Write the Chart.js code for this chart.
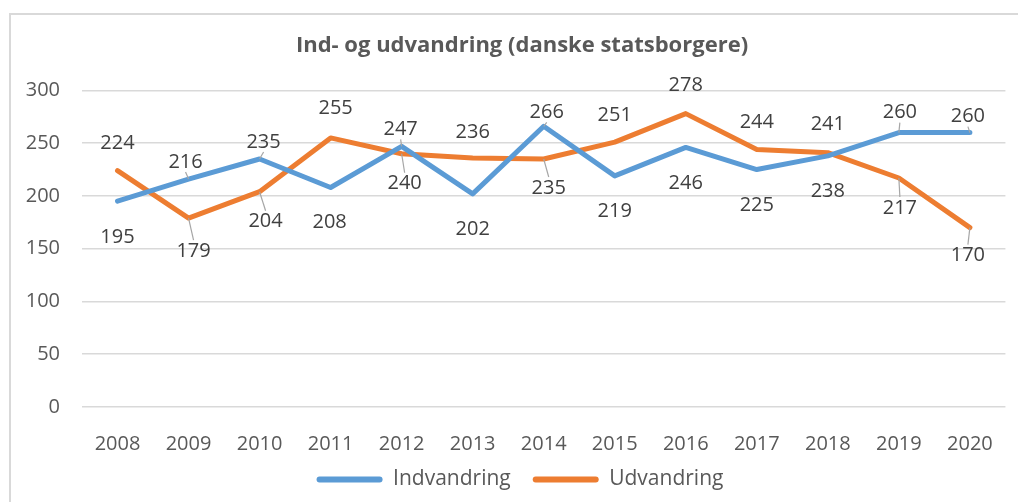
<!DOCTYPE html>
<html>
<head>
<meta charset="utf-8">
<script src="https://cdn.jsdelivr.net/npm/chart.js@4"></script>
<style>
  html, body { margin: 0; padding: 0; background: #ffffff; }
  #wrap { width: 1018px; height: 502px; position: relative; }
</style>
</head>
<body>
<div id="wrap"><canvas id="c" width="1018" height="502"></canvas></div>
<script>
// ---- data ----
const years = ['2008','2009','2010','2011','2012','2013','2014','2015','2016','2017','2018','2019','2020'];
const indvandring = [195, 216, 235, 208, 247, 202, 266, 219, 246, 225, 238, 260, 260];
const udvandring  = [224, 179, 204, 255, 240, 236, 235, 251, 278, 244, 241, 217, 170];
const yTicks = [0, 50, 100, 150, 200, 250, 300];
const seriesNames = ['Indvandring', 'Udvandring'];
const chartTitle = 'Ind- og udvandring (danske statsborgere)';

// ---- label layout (placement only) ----
const labelPlaceIn = [[0,36,0],[-3,-17,1],[4,-17,1],[-1,35,0],[-1,-17,1],[0,35,0],[3,-14,1],[0,35,0],[0,36,0],[0,36,0],[0,35,0],[1,-20,1],[-2,-16,1]];
const labelPlaceUd = [[0,-27,0],[5,33,1],[6,30,1],[5,-30,0],[3,30,1],[0,-26,0],[5,29,1],[0,-27,0],[0,-28,0],[0,-27,0],[0,-28,0],[1,30,1],[-2,28,1]];

const FONT = "'Open Sans', 'Noto Sans', sans-serif";

const framePlugin = {
  id: 'frame',
  beforeDraw(chart) {
    const ctx = chart.ctx;
    ctx.save();
    ctx.fillStyle = '#ffffff';
    ctx.fillRect(0, 0, chart.width, chart.height);
    ctx.strokeStyle = '#D9D9D9';
    ctx.lineWidth = 2;
    ctx.strokeRect(10, 14, 1200, 700);
    ctx.restore();
  },
  afterLayout(chart) {
    // centre title and legend on the chart frame like the original
    const t = chart.titleBlock;
    if (t) { t.left += 16; t.right += 16; }
    const l = chart.legend;
    if (l) { l.left += 14; l.right += 14; l.top += 2; l.bottom += 2; }
  }
};

const labelPlugin = {
  id: 'valueLabels',
  afterDatasetsDraw(chart) {
    const ctx = chart.ctx;
    const places = [labelPlaceIn, labelPlaceUd];
    ctx.save();
    chart.data.datasets.forEach((ds, di) => {
      const meta = chart.getDatasetMeta(di);
      meta.data.forEach((pt, i) => {
        const [dx, dy, leader] = places[di][i];
        const lx = pt.x + dx, ly = pt.y + dy;
        if (leader) {
          ctx.strokeStyle = '#A6A6A6';
          ctx.lineWidth = 1.2;
          ctx.beginPath();
          const edgeY = dy < 0 ? ly + 10 : ly - 11;
          ctx.moveTo(lx, edgeY);
          ctx.lineTo(pt.x, pt.y);
          ctx.stroke();
        }
      });
    });
    chart.data.datasets.forEach((ds, di) => {
      const meta = chart.getDatasetMeta(di);
      meta.data.forEach((pt, i) => {
        const [dx, dy] = places[di][i];
        ctx.font = '20px ' + FONT;
        ctx.fillStyle = '#404040';
        ctx.textAlign = 'center';
        ctx.textBaseline = 'middle';
        ctx.fillText(String(ds.data[i]), pt.x + dx, pt.y + dy);
      });
    });
    ctx.restore();
  }
};

new Chart(document.getElementById('c'), {
  type: 'line',
  data: {
    labels: years,
    datasets: [
      { label: seriesNames[0], data: indvandring, borderColor: '#5B9BD5', backgroundColor: '#5B9BD5',
        borderWidth: 5, pointRadius: 0, tension: 0, borderJoinStyle: 'round', borderCapStyle: 'round' },
      { label: seriesNames[1], data: udvandring, borderColor: '#ED7D31', backgroundColor: '#ED7D31',
        borderWidth: 5, pointRadius: 0, tension: 0, borderJoinStyle: 'round', borderCapStyle: 'round' }
    ]
  },
  options: {
    responsive: false,
    animation: false,
    devicePixelRatio: 1,
    layout: { padding: { left: 0, right: 6, top: 0, bottom: 4 } },
    plugins: {
      title: {
        display: true, text: chartTitle, color: '#595959',
        font: { family: FONT, size: 22, weight: 'bold' },
        padding: { top: 33, bottom: 31 }
      },
      legend: {
        display: true, position: 'bottom',
        labels: {
          color: '#595959', font: { family: FONT, size: 21 },
          boxWidth: 66, boxHeight: 6, padding: 22,
          useBorderRadius: true, borderRadius: 3,
          generateLabels(chart) {
            return chart.data.datasets.map((d, i) => ({
              text: d.label, fillStyle: d.borderColor, strokeStyle: d.borderColor,
              lineWidth: 0, hidden: false, datasetIndex: i, borderRadius: 3, fontColor: '#595959'
            }));
          }
        }
      },
      tooltip: { enabled: false }
    },
    scales: {
      x: {
        offset: true,
        grid: { display: false, drawTicks: false },
        border: { display: false },
        ticks: { color: '#595959', font: { family: FONT, size: 20 }, padding: 25, maxRotation: 0 },
        afterFit(s) { s.height = 38; s._computeLabelArea = function () { return undefined; }; }
      },
      y: {
        min: 0, max: 300,
        afterBuildTicks(s) { s.ticks = yTicks.map(v => ({ value: v })); },
        grid: { color: '#D9D9D9', lineWidth: 1.5, drawTicks: false },
        border: { display: false },
        ticks: { color: '#595959', font: { family: FONT, size: 20 }, padding: 22 },
        afterFit(s) { s.width = 82; }
      }
    }
  },
  plugins: [framePlugin, labelPlugin]
});
</script>
</body>
</html>
